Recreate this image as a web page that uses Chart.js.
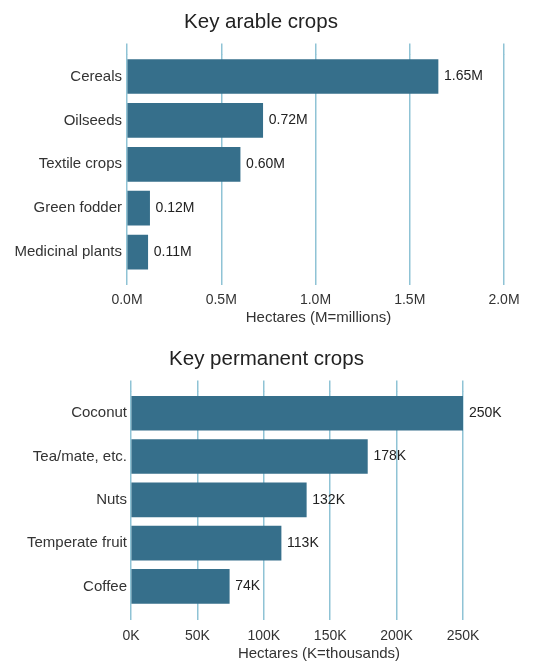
<!DOCTYPE html>
<html>
<head>
<meta charset="utf-8">
<script src="https://cdn.jsdelivr.net/npm/chart.js@4/dist/chart.umd.min.js"></script>
<style>
    html, body { margin: 0; padding: 0; background: #fff; }
    .wrap { position: relative; width: 533px; height: 661px; }
    .box { position: absolute; left: 0; width: 533px; }
    #arableBox { top: 0; height: 330px; }
    #permanentBox { top: 330px; height: 331px; }
</style>
</head>
<body>
<div class="wrap">
    <div class="box" id="arableBox"><canvas id="arableChart"></canvas></div>
    <div class="box" id="permanentBox"><canvas id="permanentChart"></canvas></div>
</div>
<script>
const arableCrops = ['Cereals', 'Oilseeds', 'Textile crops', 'Green fodder', 'Medicinal plants'];
const arableHectaresM = [1.65, 0.72, 0.60, 0.12, 0.11];
const arableTicks = [0, 0.5, 1.0, 1.5, 2.0];

const permanentCrops = ['Coconut', 'Tea/mate, etc.', 'Nuts', 'Temperate fruit', 'Coffee'];
const permanentHectaresK = [250, 178, 132, 113, 74];
const permanentTicks = [0, 50, 100, 150, 200, 250];

const BAR = '#366f8b';
const GRID = '#8fc3d5';
const FONT = "'Liberation Sans', Arial, sans-serif";

Chart.defaults.font.family = FONT;
Chart.defaults.color = '#333';

// value text past the end of each bar, plus the x axis title
const valueLabels = {
    id: 'valueLabels',
    afterDatasetsDraw(chart, args, opts) {
        const ctx = chart.ctx;
        const meta = chart.getDatasetMeta(0);
        const values = chart.data.datasets[0].data;
        const area = chart.chartArea;
        ctx.save();
        ctx.font = '14px ' + FONT;
        ctx.fillStyle = '#222';
        ctx.textAlign = 'left';
        ctx.textBaseline = 'middle';
        meta.data.forEach((bar, i) => {
            ctx.fillText(opts.format(values[i]), bar.x + 6, bar.y);
        });

        ctx.font = '15px ' + FONT;
        ctx.fillStyle = '#333';
        ctx.textAlign = 'center';
        const x = (area.left + area.right) / 2 + opts.titleShift;
        ctx.fillText(opts.axisTitle, x, chart.scales.x.bottom - opts.titleUp);
        ctx.restore();
    },
};

function makeChart(canvasId, cfg) {
    const canvas = document.getElementById(canvasId);
    const ticksAt = (scale) => {
        scale.ticks = cfg.ticks.map((v) => ({ value: v }));
    };
    return new Chart(canvas.getContext('2d'), {
        type: 'bar',
        data: {
            labels: cfg.labels,
            datasets: [{
                data: cfg.values,
                backgroundColor: BAR,
                barThickness: 34,
            }],
        },
        options: {
            indexAxis: 'y',
            responsive: true,
            maintainAspectRatio: false,
            animation: false,
            layout: { padding: { left: 0, right: cfg.padRight, top: 0, bottom: 0 } },
            plugins: {
                legend: { display: false },
                tooltip: { enabled: false },
                title: {
                    display: true,
                    text: cfg.title,
                    color: '#222',
                    font: { size: 20.5, weight: 'normal' },
                    padding: cfg.titlePad,
                },
                valueLabels: {
                    format: cfg.format,
                    axisTitle: cfg.axisTitle,
                    titleShift: cfg.axisTitleShift,
                    titleUp: cfg.axisTitleUp,
                },
            },
            scales: {
                x: {
                    min: 0,
                    max: cfg.max,
                    afterBuildTicks: ticksAt,
                    border: { display: false },
                    grid: { color: GRID, lineWidth: 1.5, tickLength: cfg.tickBottom },
                    ticks: {
                        color: '#333',
                        font: { size: 14 },
                        padding: cfg.tickPad,
                        callback: cfg.tickFormat,
                    },
                    afterFit: (s) => { s.height = cfg.bottomAxis; },
                },
                xTop: {
                    type: 'linear',
                    position: 'top',
                    min: 0,
                    max: cfg.max,
                    afterBuildTicks: ticksAt,
                    border: { display: false },
                    grid: { color: GRID, lineWidth: 1.5, drawOnChartArea: false, tickLength: cfg.tickTop },
                    ticks: { display: false },
                    afterFit: (s) => { s.height = cfg.tickTop; },
                },
                y: {
                    border: { display: false },
                    grid: { display: false, drawTicks: false },
                    ticks: { color: '#333', font: { size: 15 }, padding: cfg.labelPad },
                    afterFit: (s) => { s.width = cfg.left; },
                },
                // empty right axis, keeps room for the value text
                yRight: {
                    type: 'category',
                    position: 'right',
                    border: { display: false },
                    grid: { display: false, drawTicks: false },
                    ticks: { display: false },
                    afterFit: (s) => { s.width = cfg.rightRoom; },
                },
            },
        },
        plugins: [valueLabels],
    });
}

makeChart('arableChart', {
    title: 'Key arable crops',
    labels: arableCrops,
    values: arableHectaresM,
    ticks: arableTicks,
    max: 2.0,
    axisTitle: 'Hectares (M=millions)',
    tickFormat: (v) => v.toFixed(1) + 'M',
    format: (v) => v.toFixed(2) + 'M',
    titlePad: { top: 10, bottom: 9 },
    tickTop: 11,
    tickBottom: 11,
    tickPad: 7,
    bottomAxis: 56,
    axisTitleShift: 3,
    axisTitleUp: 12,
    left: 127,
    padRight: 11,
    rightRoom: 18,
    labelPad: 5,
});

makeChart('permanentChart', {
    title: 'Key permanent crops',
    labels: permanentCrops,
    values: permanentHectaresK,
    ticks: permanentTicks,
    max: 250,
    axisTitle: 'Hectares (K=thousands)',
    tickFormat: (v) => v + 'K',
    format: (v) => v + 'K',
    titlePad: { top: 17, bottom: 9 },
    tickTop: 11,
    tickBottom: 12,
    tickPad: 8,
    bottomAxis: 53,
    axisTitleShift: 22,
    axisTitleUp: 7,
    left: 131,
    padRight: 0,
    rightRoom: 70,
    labelPad: 4,
});
</script>
</body>
</html>
